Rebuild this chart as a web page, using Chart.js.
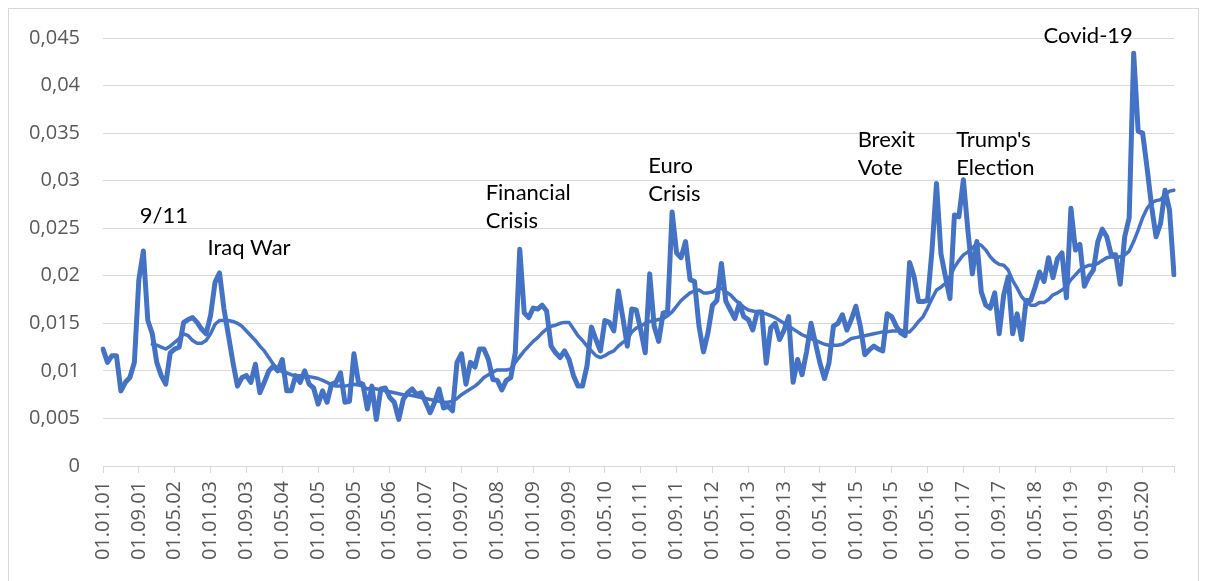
<!DOCTYPE html>
<html>
<head>
<meta charset="utf-8">
<script src="https://cdn.jsdelivr.net/npm/chart.js"></script>
<style>
  html, body { margin: 0; padding: 0; background: #ffffff; }
  #wrap { width: 1206px; height: 581px; }
</style>
</head>
<body>
<div id="wrap"><canvas id="riskChart" width="1206" height="581"></canvas></div>
<script>
// Monthly risk measure Jan 2001 - Dec 2020 and its 12-month moving average
const startYear = 2001;
const monthCount = 240;
const labelEvery = 8;

const monthly = [
  0.0123, 0.0109, 0.0116, 0.0116, 0.0079, 0.0088, 0.0093, 0.0109, 0.0196, 0.0226,
  0.0153, 0.0139, 0.0109, 0.0095, 0.0086, 0.0119, 0.0123, 0.0125, 0.0151, 0.0154,
  0.0156, 0.0151, 0.0144, 0.0139, 0.0158, 0.0193, 0.0203, 0.0165, 0.0137, 0.0109,
  0.0084, 0.0093, 0.0095, 0.0088, 0.0107, 0.0077, 0.0088, 0.0100, 0.0105, 0.0100,
  0.0112, 0.0079, 0.0079, 0.0095, 0.0088, 0.0100, 0.0086, 0.0082, 0.0065, 0.0079,
  0.0067, 0.0086, 0.0088, 0.0098, 0.0067, 0.0068, 0.0118, 0.0088, 0.0086, 0.0060,
  0.0084, 0.0049, 0.0081, 0.0082, 0.0072, 0.0067, 0.0049, 0.0070, 0.0077, 0.0081,
  0.0075, 0.0077, 0.0067, 0.0056, 0.0067, 0.0081, 0.0061, 0.0063, 0.0058, 0.0109,
  0.0118, 0.0086, 0.0109, 0.0104, 0.0123, 0.0123, 0.0112, 0.0091, 0.0090, 0.0080,
  0.0090, 0.0093, 0.0119, 0.0228, 0.0161, 0.0156, 0.0166, 0.0165, 0.0169, 0.0163,
  0.0126, 0.0119, 0.0114, 0.0121, 0.0112, 0.0095, 0.0084, 0.0084, 0.0105, 0.0146,
  0.0133, 0.0121, 0.0153, 0.0151, 0.0142, 0.0184, 0.0156, 0.0126, 0.0165, 0.0164,
  0.0143, 0.0119, 0.0202, 0.0147, 0.0131, 0.0161, 0.0162, 0.0267, 0.0224, 0.0219,
  0.0236, 0.0196, 0.0194, 0.0147, 0.0120, 0.0140, 0.0169, 0.0174, 0.0213, 0.0173,
  0.0164, 0.0155, 0.0171, 0.0157, 0.0154, 0.0143, 0.0162, 0.0162, 0.0108, 0.0145,
  0.0150, 0.0133, 0.0143, 0.0157, 0.0088, 0.0112, 0.0096, 0.0120, 0.0150, 0.0129,
  0.0108, 0.0092, 0.0108, 0.0147, 0.0150, 0.0159, 0.0143, 0.0154, 0.0168, 0.0147,
  0.0117, 0.0122, 0.0126, 0.0123, 0.0121, 0.0160, 0.0157, 0.0147, 0.0140, 0.0137,
  0.0214, 0.0199, 0.0173, 0.0173, 0.0174, 0.0227, 0.0297, 0.0223, 0.0199, 0.0176,
  0.0264, 0.0262, 0.0301, 0.0248, 0.0202, 0.0236, 0.0183, 0.0169, 0.0166, 0.0182,
  0.0139, 0.0180, 0.0199, 0.0139, 0.0160, 0.0133, 0.0174, 0.0174, 0.0188, 0.0204,
  0.0194, 0.0219, 0.0198, 0.0218, 0.0224, 0.0177, 0.0271, 0.0227, 0.0233, 0.0189,
  0.0199, 0.0206, 0.0236, 0.0249, 0.0241, 0.0222, 0.0222, 0.0191, 0.0241, 0.0261,
  0.0434, 0.0352, 0.0350, 0.0313, 0.0273, 0.0241, 0.0255, 0.0290, 0.0269, 0.0201
];

const movingAvg = [
  null, null, null, null, null, null, null, null, null, null,
  null, 0.0128, 0.0127, 0.0125, 0.0123, 0.0126, 0.0130, 0.0134, 0.0139, 0.0137,
  0.0132, 0.0129, 0.0129, 0.0132, 0.0139, 0.0149, 0.0153, 0.0153, 0.0153, 0.0152,
  0.0150, 0.0147, 0.0142, 0.0137, 0.0132, 0.0126, 0.0121, 0.0114, 0.0107, 0.0102,
  0.0099, 0.0098, 0.0096, 0.0095, 0.0095, 0.0094, 0.0094, 0.0093, 0.0092, 0.0090,
  0.0088, 0.0085, 0.0084, 0.0084, 0.0084, 0.0085, 0.0086, 0.0085, 0.0084, 0.0081,
  0.0082, 0.0081, 0.0080, 0.0079, 0.0078, 0.0077, 0.0076, 0.0075, 0.0075, 0.0074,
  0.0073, 0.0072, 0.0071, 0.0070, 0.0069, 0.0068, 0.0067, 0.0067, 0.0068, 0.0071,
  0.0075, 0.0078, 0.0081, 0.0084, 0.0088, 0.0093, 0.0096, 0.0099, 0.0101, 0.0101,
  0.0101, 0.0102, 0.0109, 0.0115, 0.0121, 0.0126, 0.0131, 0.0135, 0.0140, 0.0144,
  0.0147, 0.0148, 0.0150, 0.0151, 0.0151, 0.0144, 0.0137, 0.0132, 0.0126, 0.0121,
  0.0116, 0.0114, 0.0116, 0.0119, 0.0121, 0.0126, 0.0130, 0.0133, 0.0141, 0.0145,
  0.0147, 0.0150, 0.0152, 0.0153, 0.0154, 0.0155, 0.0158, 0.0162, 0.0168, 0.0174,
  0.0178, 0.0182, 0.0184, 0.0185, 0.0182, 0.0182, 0.0183, 0.0186, 0.0187, 0.0183,
  0.0180, 0.0175, 0.0171, 0.0167, 0.0164, 0.0163, 0.0162, 0.0161, 0.0160, 0.0158,
  0.0156, 0.0153, 0.0150, 0.0147, 0.0144, 0.0141, 0.0138, 0.0136, 0.0134, 0.0132,
  0.0130, 0.0128, 0.0127, 0.0127, 0.0127, 0.0128, 0.0131, 0.0134, 0.0135, 0.0136,
  0.0137, 0.0138, 0.0139, 0.0140, 0.0141, 0.0141, 0.0142, 0.0142, 0.0143, 0.0141,
  0.0141, 0.0146, 0.0152, 0.0157, 0.0166, 0.0176, 0.0185, 0.0188, 0.0192, 0.0199,
  0.0209, 0.0216, 0.0222, 0.0225, 0.0229, 0.0234, 0.0232, 0.0227, 0.0220, 0.0215,
  0.0212, 0.0211, 0.0206, 0.0195, 0.0187, 0.0178, 0.0173, 0.0169, 0.0169, 0.0172,
  0.0172, 0.0175, 0.0180, 0.0182, 0.0185, 0.0189, 0.0196, 0.0201, 0.0206, 0.0209,
  0.0211, 0.0211, 0.0213, 0.0216, 0.0219, 0.0220, 0.0219, 0.0220, 0.0222, 0.0226,
  0.0236, 0.0248, 0.0261, 0.0271, 0.0277, 0.0279, 0.0280, 0.0285, 0.0289, 0.0290
];

// event labels: text lines, month index of left edge, value at first baseline
const eventText = [['9/11'], ['Iraq War'], ['Financial', 'Crisis'], ['Euro', 'Crisis'],
                   ['Brexit', 'Vote'], ['Trump\'s', 'Election'], ['Covid-19']];
const eventMonth = [8.2, 23.3, 85.4, 121.7, 168.4, 190.4, 209.9];
const eventValue = [0.0256, 0.0222, 0.0280, 0.0308, 0.0335, 0.0335, 0.0445];

// dd.mm.yy category labels
const months = [];
for (let i = 0; i < monthCount; i++) {
    const y = startYear + Math.floor(i / 12);
    const m = (i % 12) + 1;
    months.push('01.' + String(m).padStart(2, '0') + '.' + String(y % 100).padStart(2, '0'));
}

const blue = '#4472C4';
const gridGray = '#d9d9d9';

const frame = {
    id: 'frame',
    beforeDraw(chart) {
        const c = chart.ctx;
        c.save();
        c.fillStyle = '#ffffff';
        c.fillRect(0, 0, chart.width, chart.height);
        c.strokeStyle = '#d9d9d9';
        c.lineWidth = 1;
        c.strokeRect(8.5, 8.5, 1190, 600);
        c.restore();
    }
};

const events = {
    id: 'events',
    afterDatasetsDraw(chart) {
        const c = chart.ctx;
        const xs = chart.scales.x, ys = chart.scales.y;
        c.save();
        c.fillStyle = '#000000';
        c.font = '22px Lato';
        c.textAlign = 'left';
        c.textBaseline = 'alphabetic';
        eventText.forEach((lines, k) => {
            const px = xs.getPixelForValue(eventMonth[k]);
            const py = ys.getPixelForValue(eventValue[k]);
            lines.forEach((t, j) => c.fillText(t, px, py + j * 28));
        });
        c.restore();
    }
};

new Chart(document.getElementById('riskChart').getContext('2d'), {
    type: 'line',
    data: {
        labels: months,
        datasets: [
            {
                data: monthly,
                borderColor: blue,
                borderWidth: 5,
                pointRadius: 0,
                tension: 0,
                borderJoinStyle: 'round',
                borderCapStyle: 'round',
                fill: false,
                order: 1
            },
            {
                data: movingAvg,
                borderColor: blue,
                borderWidth: 3.5,
                pointRadius: 0,
                tension: 0,
                borderJoinStyle: 'round',
                borderCapStyle: 'round',
                fill: false,
                order: 0
            }
        ]
    },
    options: {
        responsive: false,
        animation: false,
        layout: { padding: { left: 0, right: 25, top: 38, bottom: 0 } },
        plugins: {
            legend: { display: false },
            tooltip: { enabled: false }
        },
        scales: {
            x: {
                offset: false,
                afterFit: function(scale) { scale.height = 115; },
                grid: {
                    drawOnChartArea: false,
                    color: gridGray,
                    tickColor: gridGray,
                    tickLength: 7
                },
                border: { color: gridGray, width: 1 },
                ticks: {
                    autoSkip: false,
                    maxRotation: 90,
                    minRotation: 90,
                    padding: 8,
                    color: '#595959',
                    font: { family: 'Open Sans', size: 20 },
                    callback: function(value, index) {
                        if (index % labelEvery === 0) return months[index];
                        if (index === monthCount - 1) return '';
                        return null;
                    }
                }
            },
            y: {
                min: 0,
                max: 0.045,
                afterFit: function(scale) { scale.width = 103; },
                border: { display: false },
                grid: { color: gridGray, lineWidth: 1, drawTicks: false },
                ticks: {
                    stepSize: 0.005,
                    padding: 23,
                    color: '#595959',
                    font: { family: 'Open Sans', size: 20 },
                    callback: function(value) {
                        return parseFloat(value.toFixed(3)).toString().replace('.', ',');
                    }
                }
            }
        }
    },
    plugins: [frame, events]
});
</script>
</body>
</html>
